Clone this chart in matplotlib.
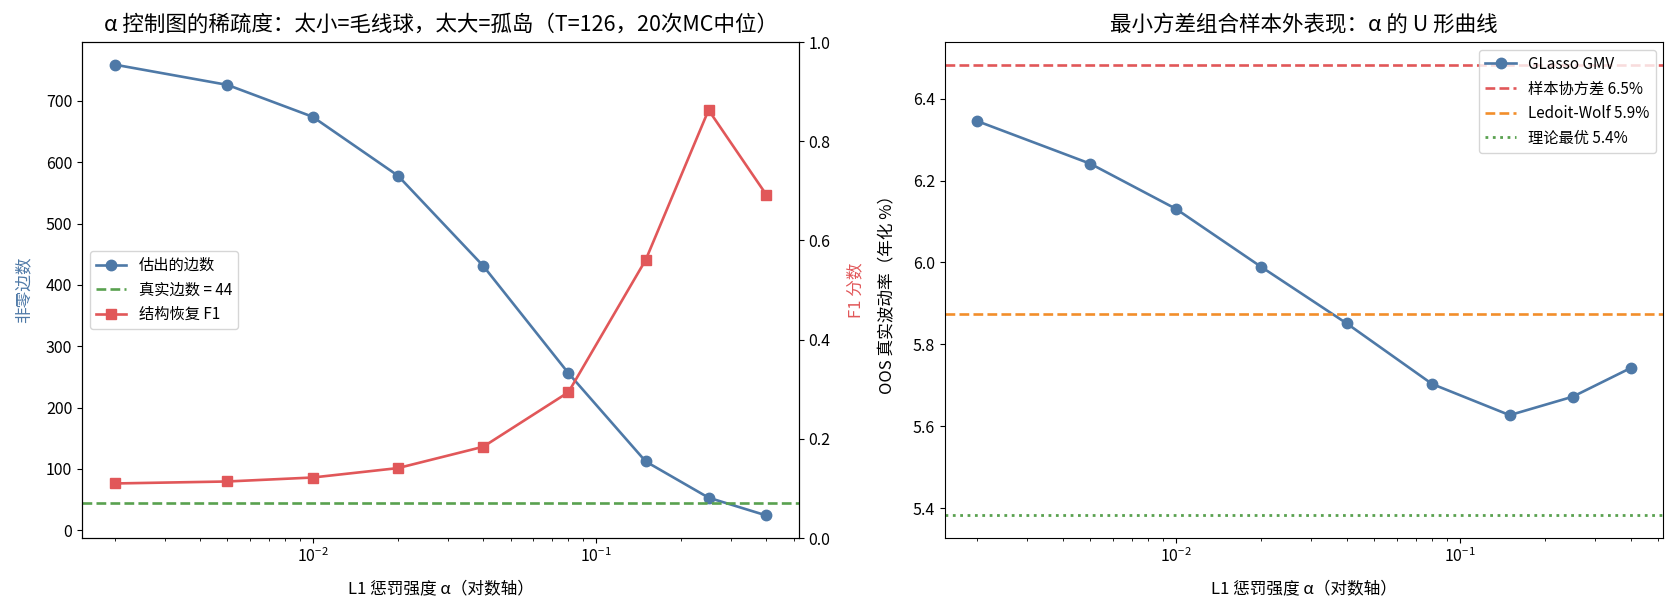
import matplotlib
matplotlib.use("Agg")
import matplotlib.pyplot as plt

plt.rcParams['font.family'] = ['Noto Sans CJK SC', 'DejaVu Sans']
plt.rcParams['axes.unicode_minus'] = False

alphas = [0.002, 0.005, 0.01, 0.02, 0.04, 0.08, 0.15, 0.25, 0.4]
n_edges = [759, 726, 674, 578, 431, 256, 112, 53, 24]
f1_scores = [0.110, 0.114, 0.122, 0.141, 0.184, 0.294, 0.561, 0.863, 0.692]
true_edges = 44
oos_vol = [6.345, 6.241, 6.131, 5.989, 5.851, 5.703, 5.627, 5.672, 5.742]
sample_vol = 6.483
lw_vol = 5.874
oracle_vol = 5.382

blue = '#4e79a7'
red = '#e15759'
green = '#59a14f'
orange = '#f28e2b'

TITLE = 15.5
LABEL = 12
TICK = 11.5
LEG = 11

fig = plt.figure(figsize=(16.75, 6.1), dpi=100)
ax1 = fig.add_axes([0.049, 0.118, 0.428, 0.813])
ax3 = fig.add_axes([0.564, 0.118, 0.429, 0.813])

l1, = ax1.plot(alphas, n_edges, '-o', color=blue, lw=1.9, ms=7.5, label='估出的边数')
l2 = ax1.axhline(true_edges, color=green, ls='--', lw=1.9, label=f'真实边数 = {true_edges}')
ax1.set_xscale('log')
ax1.set_xlabel('L1 惩罚强度 α（对数轴）', fontsize=LABEL, labelpad=10)
ax1.set_ylabel('非零边数', color=blue, fontsize=LABEL, labelpad=10)
ax1.tick_params(labelsize=TICK)
ax2 = ax1.twinx()
l3, = ax2.plot(alphas, f1_scores, '-s', color=red, lw=1.9, ms=7.5, label='结构恢复 F1')
ax2.set_ylim(0, 1)
ax2.set_ylabel('F1 分数', color=red, fontsize=LABEL, labelpad=12)
ax2.tick_params(labelsize=TICK)
ax1.set_title('α 控制图的稀疏度：太小=毛线球，太大=孤岛（T=126，20次MC中位）', fontsize=TITLE, pad=8)
ax1.legend(handles=[l1, l2, l3], loc='center left', fontsize=LEG)

ax3.plot(alphas, oos_vol, '-o', color=blue, lw=1.9, ms=7.5, label='GLasso GMV')
ax3.axhline(sample_vol, color=red, ls='--', lw=1.9, label=f'样本协方差 {sample_vol:.1f}%')
ax3.axhline(lw_vol, color=orange, ls='--', lw=1.9, label=f'Ledoit-Wolf {lw_vol:.1f}%')
ax3.axhline(oracle_vol, color=green, ls=':', lw=2.0, label=f'理论最优 {oracle_vol:.1f}%')
ax3.set_xscale('log')
ax3.set_xlabel('L1 惩罚强度 α（对数轴）', fontsize=LABEL, labelpad=10)
ax3.set_ylabel('OOS 真实波动率（年化 %）', fontsize=LABEL, labelpad=12)
ax3.tick_params(labelsize=TICK)
ax3.set_title('最小方差组合样本外表现：α 的 U 形曲线', fontsize=TITLE, pad=8)
ax3.legend(loc='upper right', fontsize=LEG)

fig.savefig('out.png', dpi=100)
